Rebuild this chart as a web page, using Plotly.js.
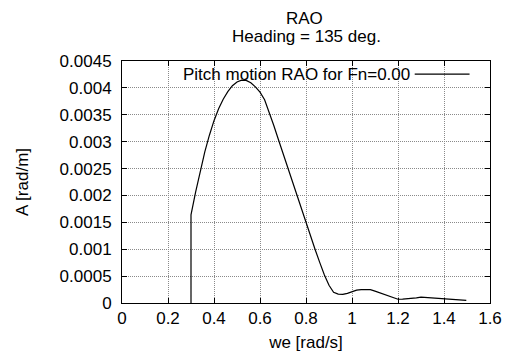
<!DOCTYPE html>
<html>
<head>
<meta charset="utf-8">
<script src="https://cdn.plot.ly/plotly-3.0.1.min.js"></script>
<style>html,body{margin:0;padding:0;background:#fff;}#chart{width:507px;height:355px;}</style>
</head>
<body>
<div id="chart"></div>
<script>
const we = [0.30, 0.30, 0.32, 0.34, 0.36, 0.38, 0.40, 0.42, 0.44, 0.46, 0.48, 0.50, 0.52, 0.54, 0.56, 0.58, 0.60, 0.62, 0.64, 0.66, 0.68, 0.70, 0.72, 0.74, 0.76, 0.78, 0.80, 0.82, 0.84, 0.86, 0.88, 0.90, 0.92, 0.94, 0.96, 0.98, 1.00, 1.02, 1.04, 1.06, 1.08, 1.10, 1.12, 1.14, 1.16, 1.18, 1.20, 1.22, 1.24, 1.26, 1.28, 1.30, 1.32, 1.34, 1.36, 1.38, 1.40, 1.42, 1.44, 1.46, 1.48, 1.497];
const pitchRAO = [0, 0.00164, 0.00206, 0.00244, 0.00281, 0.00312, 0.00339, 0.00361, 0.00379, 0.00393, 0.00404, 0.00411, 0.004145, 0.00414, 0.004095, 0.00402, 0.00392, 0.00378, 0.00355, 0.00330, 0.00304, 0.00278, 0.00252, 0.00226, 0.00200, 0.00174, 0.00147, 0.00122, 0.00099, 0.00075, 0.00052, 0.00033, 0.00020, 0.000165, 0.00016, 0.00018, 0.000215, 0.00024, 0.00025, 0.000252, 0.000248, 0.00022, 0.000188, 0.000155, 0.000125, 0.000095, 0.00007, 0.000072, 0.000077, 0.000083, 0.000097, 0.00011, 0.000105, 0.000093, 0.000085, 0.000078, 0.000074, 0.00007, 0.000066, 0.00006, 0.000055, 0.00005];
const xTickVals = [0, 0.2, 0.4, 0.6, 0.8, 1, 1.2, 1.4, 1.6];
const xTickText = ["0", "0.2", "0.4", "0.6", "0.8", "1", "1.2", "1.4", "1.6"];
const yTickVals = [0, 0.0005, 0.001, 0.0015, 0.002, 0.0025, 0.003, 0.0035, 0.004, 0.0045];
const yTickText = ["0", "0.0005", "0.001", "0.0015", "0.002", "0.0025", "0.003", "0.0035", "0.004", "0.0045"];
const seriesName = "Pitch motion RAO for Fn=0.00";
const titleLines = ["RAO", "Heading = 135 deg."];

const font = {family: "Liberation Sans, Arial, sans-serif", size: 17, color: "#000"};

const axisCommon = {
  showline: true, linecolor: "#000", linewidth: 1, mirror: "ticks",
  ticks: "inside", ticklen: 5, tickcolor: "#000", tickwidth: 1,
  showgrid: true, gridcolor: "#8a8a8a", griddash: "1px,1px", gridwidth: 1,
  zeroline: false, tickfont: font, fixedrange: true
};

const trace = {
  x: we, y: pitchRAO, type: "scatter", mode: "lines",
  line: {color: "#000", width: 1.2}, name: seriesName, showlegend: false
};

const layout = {
  width: 507, height: 355,
  margin: {l: 121.5, r: 16.5, t: 60.5, b: 52.3, pad: 0},
  paper_bgcolor: "#fff", plot_bgcolor: "#fff",
  font: font,
  showlegend: false,
  xaxis: Object.assign({}, axisCommon, {
    range: [0, 1.6], tickvals: xTickVals, ticktext: xTickText,
    title: {text: "we [rad/s]", font: font, standoff: 8}
  }),
  yaxis: Object.assign({}, axisCommon, {
    range: [0, 0.0045], tickvals: yTickVals, ticktext: yTickText,
    ticklabelstandoff: 6,
    title: {text: "A [rad/m]", font: font, standoff: 26}
  }),
  annotations: [
    {text: titleLines[0], xref: "paper", yref: "paper", x: 0.496, y: 1.1775, xanchor: "center", yanchor: "middle", showarrow: false, font: font},
    {text: titleLines[1], xref: "paper", yref: "paper", x: 0.5, y: 1.1025, xanchor: "center", yanchor: "middle", showarrow: false, font: font},
    {text: seriesName, xref: "paper", yref: "paper", x: 0.788, y: 0.944, xanchor: "right", yanchor: "middle", showarrow: false, font: font}
  ],
  shapes: [
    {type: "line", xref: "paper", yref: "paper", x0: 0.7954, x1: 0.9444, y0: 0.946, y1: 0.946, line: {color: "#000", width: 1.2}}
  ]
};

Plotly.newPlot("chart", [trace], layout, {displayModeBar: false, staticPlot: true});
</script>
</body>
</html>
